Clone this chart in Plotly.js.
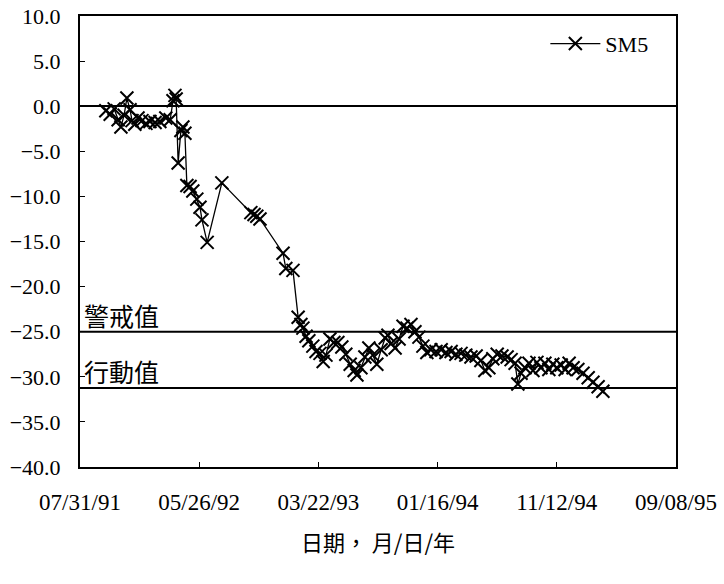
<!DOCTYPE html>
<html>
<head>
<meta charset="utf-8">
<script src="https://cdn.plot.ly/plotly-3.0.1.min.js"></script>
<style>html,body{margin:0;padding:0;background:#fff;}#chart{width:724px;height:584px;}</style>
</head>
<body>
<div id="chart"></div>
<script>
const dates = [
"1991-10-04","1991-10-15","1991-10-25","1991-11-04","1991-11-11","1991-11-19","1991-11-26","1991-12-04","1991-12-09","1991-12-16","1991-12-24",
"1992-01-03","1992-01-13","1992-01-23","1992-02-05","1992-02-17","1992-03-03","1992-03-14","1992-03-21","1992-03-26","1992-03-29",
"1992-04-03","1992-04-10","1992-04-15","1992-04-20","1992-04-25","1992-05-03","1992-05-10","1992-05-20","1992-05-28","1992-06-02","1992-06-15",
"1992-07-22","1992-10-03","1992-10-11","1992-10-18","1992-10-26","1992-12-23","1992-12-30",
"1993-01-17","1993-01-30","1993-02-06","1993-02-11","1993-02-19","1993-02-26","1993-03-08","1993-03-16","1993-03-26","1993-04-03","1993-04-10",
"1993-04-20","1993-04-30","1993-05-10","1993-05-20","1993-05-30","1993-06-10","1993-06-20","1993-06-27","1993-07-07","1993-07-17","1993-07-27",
"1993-08-06","1993-08-16","1993-08-27","1993-09-06","1993-09-13","1993-09-21","1993-10-01","1993-10-11","1993-10-21","1993-10-31","1993-11-10",
"1993-11-20","1993-11-30","1993-12-10","1993-12-20","1993-12-30",
"1994-01-12","1994-01-25","1994-02-06","1994-02-19","1994-03-03","1994-03-16","1994-03-28","1994-04-10","1994-04-23","1994-05-05","1994-05-15",
"1994-05-25","1994-06-04","1994-06-15","1994-06-27","1994-07-10","1994-07-20","1994-07-30","1994-08-06","1994-08-14","1994-08-24","1994-09-03",
"1994-09-13","1994-09-23","1994-10-03","1994-10-13","1994-10-23","1994-11-02","1994-11-12","1994-11-23","1994-12-03","1994-12-13","1994-12-23",
"1995-01-04","1995-01-17","1995-01-30","1995-02-11","1995-02-24","1995-03-08"
];
const sm5 = [
-0.5,-0.9,-0.3,-1.5,-2.3,-1.0,0.9,-0.4,-1.6,-2.0,-1.3,
-1.6,-1.9,-1.7,-1.8,-1.7,-1.3,-1.5,0.6,1.2,0.8,
-6.3,-2.7,-2.3,-3.0,-8.8,-8.9,-9.4,-10.3,-11.2,-12.6,-15.1,
-8.5,-11.8,-12.0,-12.2,-12.5,-16.3,-18.0,
-18.2,-23.4,-24.2,-24.6,-25.5,-26.0,-26.6,-27.2,-27.4,-28.3,-27.6,
-25.8,-26.2,-26.2,-26.7,-27.5,-28.6,-29.3,-29.8,-29.0,-27.8,-26.8,
-27.6,-28.6,-27.0,-25.7,-25.4,-26.3,-26.8,-25.8,-24.4,-24.6,-24.2,
-25.0,-25.6,-26.6,-27.3,-27.0,
-27.2,-27.0,-27.3,-27.2,-27.5,-27.4,-27.6,-27.8,-27.7,-28.2,-29.3,
-29.0,-28.0,-27.5,-27.7,-27.8,-28.1,-28.5,-30.8,-29.6,-29.0,-28.5,
-29.3,-28.4,-29.0,-28.5,-29.2,-28.6,-29.0,-28.7,-29.2,-28.5,-29.0,
-29.2,-29.6,-30.1,-30.6,-31.1,-31.6
];
const xTickVals = ["1991-07-31","1992-05-26","1993-03-22","1994-01-16","1994-11-12","1995-09-08"];
const xTickText = ["07/31/91","05/26/92","03/22/93","01/16/94","11/12/94","09/08/95"];
const yTickVals = [10,5,0,-5,-10,-15,-20,-25,-30,-35,-40];
const refLevels = [-25, -31.25];
const refLabels = ["警戒值", "行動值"];
const seriesName = "SM5";
const xTitle = "日期， 月/日/年";

const serif = "Liberation Serif";
const cjk = "Noto Sans CJK TC";

const trace = {
  x: dates, y: sm5, name: seriesName, type: "scatter", mode: "lines+markers",
  line: {color: "#000", width: 1.3},
  marker: {symbol: "x-thin-open", size: 13, color: "#000", line: {color: "#000", width: 2}}
};

const shapes = refLevels.map(v => ({
  type: "line", xref: "paper", x0: 0, x1: 1, yref: "y", y0: v, y1: v,
  line: {color: "#000", width: 2}
}));
const annotations = refLabels.map((t, i) => ({
  text: t, xref: "paper", x: 0.004, xanchor: "left", yref: "y", y: refLevels[i], yanchor: "bottom",
  showarrow: false, font: {family: cjk, size: 25, color: "#000"}, yshift: -3
}));

const layout = {
  width: 724, height: 584,
  margin: {l: 80, r: 48, t: 16, b: 117},
  paper_bgcolor: "#fff", plot_bgcolor: "#fff",
  showlegend: true,
  legend: {x: 0.962, xanchor: "right", y: 0.985, yanchor: "top", bgcolor: "rgba(0,0,0,0)",
           font: {family: serif, size: 22, color: "#000"}, itemwidth: 50},
  xaxis: {
    type: "date", range: [xTickVals[0], xTickVals[xTickVals.length - 1]],
    tickmode: "array", tickvals: xTickVals, ticktext: xTickText,
    ticks: "inside", ticklen: 5, tickcolor: "#000", tickwidth: 1,
    showline: true, linecolor: "#000", linewidth: 2, mirror: true,
    showgrid: false, zeroline: false, ticklabelstandoff: 13,
    tickfont: {family: serif, size: 23, color: "#000"},
    title: {text: xTitle, font: {family: cjk, size: 22, color: "#000"}, standoff: 22}
  },
  yaxis: {
    range: [-40, 10], tickmode: "array", tickvals: yTickVals, tickformat: ".1f",
    ticks: "inside", ticklen: 5, tickcolor: "#000", tickwidth: 1,
    showline: true, linecolor: "#000", linewidth: 2, mirror: true,
    showgrid: false, zeroline: true, zerolinecolor: "#000", zerolinewidth: 2,
    ticklabelstandoff: 13,
    tickfont: {family: serif, size: 22, color: "#000"}
  },
  shapes: shapes,
  annotations: annotations
};

Plotly.newPlot("chart", [trace], layout, {displayModeBar: false, staticPlot: true});
</script>
</body>
</html>
